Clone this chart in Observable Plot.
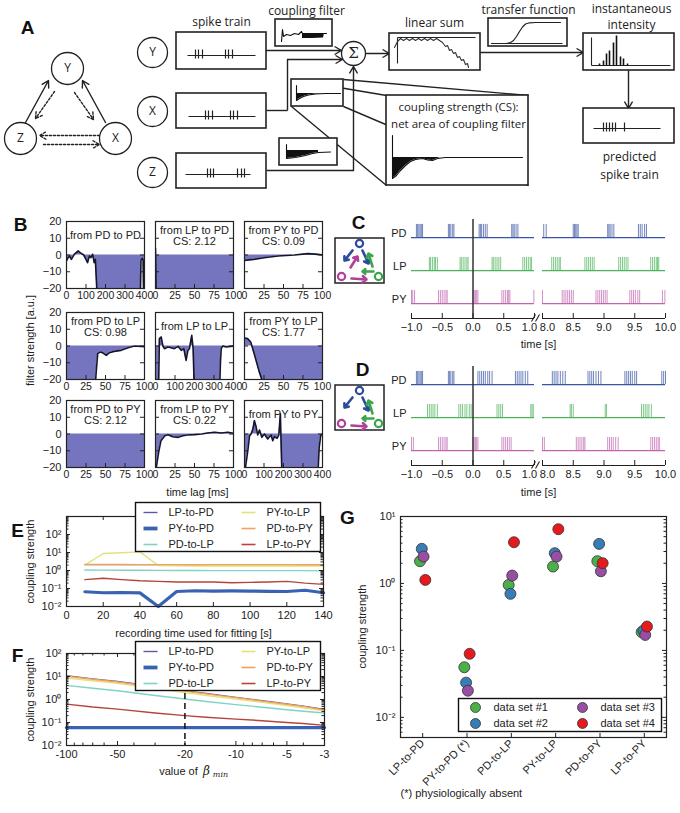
<!DOCTYPE html>
<html>
<head>
<meta charset="utf-8">
<script src="https://cdn.jsdelivr.net/npm/d3@7"></script>
<script src="https://cdn.jsdelivr.net/npm/@observablehq/plot@0.6"></script>
<style>
  html,body{margin:0;padding:0;background:#fff;}
  #root{position:relative;width:680px;height:813px;overflow:hidden;background:#fff;}
  #root svg{position:absolute;max-width:none;}
</style>
</head>
<body>
<div id="root"></div>
<script>
// ======================= DATA =======================
// Panel B: coupling filters [time lag (ms), filter strength (a.u.)]
const filterPDtoPD = [[0,-3.6],[8,-1.6],[15,-0.6],[25,-2.6],[40,0.4],[60,2.4],[70,1.4],[88,0],[100,-2.6],[108,-4.6],[117,-0.6],[125,-1.6],[134,0.4],[142,-4.6],[148,-2.6],[156,-22],[160,-30],[378,-30],[382,-3],[388,-2],[393,-3],[396,-30],[400,-30]];
const filterLPtoPD = [[0,4],[1,-30],[100,-30]];
const filterPYtoPD = [[0,-3.2],[12,-2.6],[25,-1.6],[43,-0.6],[64,0],[81,0.8],[94,0.4],[100,0]];
const filterPDtoLP = [[0,-30],[36,-30],[38,-16],[40,-4.6],[43,-3.6],[46,-4],[51,-5.6],[55,-4],[61,-3.2],[70,-2.6],[79,-1],[87,0],[100,-0.4]];
const filterLPtoLP = [[0,-30],[15,-30],[18,-10],[20,4.4],[29,5.4],[38,0],[46,-1.6],[63,-0.6],[80,-1],[97,-1.6],[115,-0.2],[132,-2.6],[145,-1.6],[157,-8.6],[166,-2.6],[174,-1.6],[186,6.4],[193,-1.6],[198,-22],[200,-30],[328,-30],[333,-10],[337,-1.6],[345,0],[362,-0.6],[400,0]];
const filterPYtoLP = [[0,4.8],[4,4.4],[8,2.4],[13,-5.6],[19,-15.6],[23,-21],[26,-30],[100,-30]];
const filterPDtoPY = [[0,-30],[100,-30]];
const filterLPtoPY = [[0,-30],[1,-20],[4,-11],[7,-4],[12,-1],[16,-0.4],[22,-1.6],[29,-2],[35,-1],[41,-0.6],[50,-0.4],[59,0],[67,0.6],[76,1],[84,0.6],[93,1],[100,0.4]];
const filterPYtoPY = [[0,-30],[5,-20],[17,-10],[26,-1],[34,0],[43,3],[51,8],[60,4],[68,-0.6],[77,2.4],[89,-2],[102,0],[119,-3],[136,-0.6],[145,-4],[153,-1.6],[167,-2.6],[176,-0.6],[184,12],[191,-20],[194,-30],[374,-30],[383,-8],[391,-1],[400,0]];
const filterTitles = ["from PD to PD","from LP to PD","from PY to PD","from PD to LP","from LP to LP","from PY to LP","from PD to PY","from LP to PY","from PY to PY"];
const filterCS = [null,"2.12","0.09","0.98",null,"1.77","2.12","0.22",null];
const filterMaxLag = [400,100,100,100,400,100,100,100,400];
const lagTicksShort = [0,25,50,75,100];
const lagTicksLong = [0,100,200,300,400];
const strengthTicks = [-20,-10,0,10,20];

// Panels C & D: spike times (s)
const cPD = [-0.92,-0.90,-0.88,-0.86,-0.84,-0.82,-0.40,-0.38,-0.36,-0.33,-0.31,0.10,0.12,0.14,0.17,0.20,0.23,0.63,0.65,0.67,0.70,0.73,
             8.02,8.06,8.50,8.52,8.54,8.56,8.58,9.06,9.08,9.10,9.13,9.16,9.56,9.59,9.62,9.66,9.69];
const cLP = [-0.71,-0.69,-0.66,-0.63,-0.61,-0.58,-0.21,-0.19,-0.16,-0.13,-0.10,-0.08,0.31,0.33,0.36,0.39,0.42,0.45,0.81,0.84,0.87,0.90,0.93,0.95,
             8.15,8.18,8.21,8.24,8.27,8.29,8.69,8.72,8.75,8.78,8.81,8.84,9.24,9.27,9.30,9.33,9.36,9.39,9.76,9.79,9.82,9.85,9.87,9.89];
const cPY = [-1.0,-0.98,-0.95,-0.56,-0.53,-0.50,-0.47,-0.44,-0.42,0.0,0.02,0.04,0.06,0.08,0.47,0.50,0.53,0.56,0.58,0.60,0.99,
             8.0,8.32,8.35,8.38,8.41,8.44,8.47,8.50,8.87,8.90,8.93,8.96,8.99,9.02,9.05,9.42,9.45,9.48,9.51,9.55,9.58,9.95,9.99];
const dPD = [-0.92,-0.90,-0.88,-0.86,-0.84,-0.82,-0.40,-0.38,-0.36,-0.33,-0.31,0.08,0.11,0.14,0.17,0.20,0.24,0.27,0.31,0.69,0.72,0.75,0.78,0.81,0.85,0.89,
             8.16,8.19,8.22,8.25,8.29,8.33,8.37,8.74,8.77,8.80,8.83,8.87,8.91,8.95,9.34,9.37,9.40,9.43,9.46,9.50,9.53,9.94,9.97,10.0];
const dLP = [-0.74,-0.71,-0.68,-0.65,-0.62,-0.58,-0.23,-0.20,-0.17,-0.13,-0.10,-0.06,-0.03,0.39,0.42,0.45,0.48,0.94,0.96,0.98,
             8.45,8.47,8.50,9.02,9.04,9.61,9.64,9.67,9.70,9.73,9.77];
const dPY = [-1.0,-0.97,-0.56,-0.53,-0.50,-0.47,-0.44,-0.42,0.0,0.02,0.04,0.06,0.08,0.47,0.50,0.53,0.56,0.59,0.62,
             8.0,8.03,8.55,8.58,8.61,8.64,8.67,8.69,9.06,9.09,9.12,9.15,9.19,9.23,9.76,9.79,9.82,9.85,9.88,9.90];
const neuronNames = ["PD","LP","PY"];
const timeTicksEarly = [-1,-0.5,0,0.5,1];
const timeTicksLate = [8,8.5,9,9.5,10];

// Panels E & F: series
const seriesNames = ["LP-to-PD","PY-to-PD","PD-to-LP","PY-to-LP","PD-to-PY","LP-to-PY"];
const recTime = [10,20,30,40,50,60,70,80,90,100,110,120,130,140];
const eLPtoPD = [2.12,2.1,2.1,2.12,2.1,2.12,2.12,2.1,2.12,2.12,2.1,2.12,2.1,2.12];
const ePYtoPD = [0.066,0.058,0.06,0.057,0.010,0.068,0.075,0.072,0.073,0.072,0.07,0.068,0.08,0.058];
const ePDtoLP = [1.06,1.05,1.04,1.03,1.02,1.0,1.0,0.99,0.98,0.98,0.98,0.98,0.98,0.95];
const ePYtoLP = [2.0,8.8,9.6,10.8,1.9,1.8,1.78,1.77,1.77,1.77,1.77,1.77,1.77,1.75];
const ePDtoPY = [2.2,2.15,2.15,2.12,2.12,2.12,2.1,2.12,2.12,2.12,2.12,2.12,2.1,2.1];
const eLPtoPY = [0.31,0.37,0.31,0.27,0.25,0.23,0.23,0.23,0.21,0.22,0.23,0.25,0.2,0.17];
const betaMin = [-100,-70,-50,-30,-20,-15,-10,-7,-5,-4,-3];
const fLPtoPD = [11,8,6.2,3.7,2.4,1.85,1.25,0.9,0.65,0.52,0.37];
const fPYtoPD = [0.06,0.06,0.06,0.06,0.06,0.06,0.06,0.06,0.06,0.06,0.06];
const fPDtoLP = [4.1,3.1,2.4,1.5,1.05,0.82,0.6,0.46,0.36,0.31,0.26];
const fPYtoLP = [8.5,6.5,5.0,3.0,2.0,1.5,1.05,0.75,0.55,0.44,0.32];
const fPDtoPY = [10.3,7.6,5.8,3.5,2.3,1.75,1.2,0.85,0.62,0.5,0.35];
const fLPtoPY = [0.63,0.47,0.38,0.26,0.2,0.17,0.14,0.12,0.1,0.09,0.075];
const betaTicks = [-100,-50,-20,-10,-5,-3];
const betaChosen = [-20];

// Panel G
const gCategories = ["LP-to-PD","PY-to-PD (*)","PD-to-LP","PY-to-LP","PD-to-PY","LP-to-PY"];
const gSetNames = ["data set #1","data set #2","data set #3","data set #4"];
const gSet1 = [2.15,0.056,0.95,1.79,2.15,0.187];
const gSet2 = [3.29,0.033,0.70,2.83,3.90,0.198];
const gSet3 = [2.52,0.025,1.31,2.52,1.52,0.170];
const gSet4 = [1.13,0.089,4.13,6.46,2.01,0.227];

// ======================= STYLES / LAYOUT =======================
const root = document.getElementById("root");
const SANS = "'Liberation Sans', Arial, Helvetica, sans-serif";
const OPEN = "'Open Sans', 'Liberation Sans', sans-serif";
const INK = "#222";
const STYLE = `background:transparent;overflow:visible;font-family:${SANS};font-size:11px;color:${INK};`;
const seriesColors = ["#5b58a8","#3a62b3","#7fd3c4","#e2e27a","#f5a05a","#b5443f"];
const seriesWidths = [1.2,3.2,1.4,1.4,1.4,1.4];
const rasterColors = ["#3a55a5","#4cb35a","#c066b0"];
const gColors = ["#4daf4a","#377eb8","#984ea3","#e41a1c"];
const filterFill = "#7474bf";

function mount(svg, left, top) {
  svg.style.left = left + "px";
  svg.style.top = top + "px";
  root.appendChild(svg);
}
const SUP = {"-":"⁻","0":"⁰","1":"¹","2":"²","3":"³","4":"⁴","5":"⁵","6":"⁶","7":"⁷","8":"⁸","9":"⁹"};
const pow10 = v => "10" + String(Math.round(Math.log10(v))).split("").map(c => SUP[c]).join("");
function logMinors(lo, hi) {
  const out = [];
  for (let e = Math.floor(Math.log10(lo)); e <= Math.ceil(Math.log10(hi)); e++)
    for (let k = 2; k <= 9; k++) { const v = k * 10 ** e; if (v > lo * 1.0001 && v < hi * 0.9999) out.push(v); }
  return out;
}

// Schematic geometry (panel A), in page pixels
const triNodes = [{label:"Y",x:67,y:68},{label:"Z",x:20,y:138},{label:"X",x:115,y:138}];
const triArrows = [
  {x1:25,y1:122,x2:48,y2:80,dash:false},{x1:54,y1:91,x2:35,y2:118,dash:true},
  {x1:105,y1:122,x2:82,y2:80,dash:false},{x1:74,y1:92,x2:93,y2:119,dash:true},
  {x1:99,y1:135,x2:39,y2:135,dash:true},{x1:43,y1:144,x2:99,y2:144,dash:true}];
const ioNodes = [{label:"Y",x:152,y:52},{label:"X",x:152,y:111},{label:"Z",x:152,y:172}];
const sumNode = [{label:"Σ",x:353,y:53}];
const wires = [
  {x1:266,y1:110,x2:287,y2:110},{x1:287,y1:110,x2:287,y2:59},
  {x1:266,y1:170,x2:353,y2:170},
  {x1:291,y1:79,x2:386,y2:95},{x1:343,y1:79,x2:528,y2:95},
  {x1:291,y1:106,x2:386,y2:185},{x1:343,y1:106,x2:528,y2:185}];
const wireArrows = [
  {x1:266,y1:50,x2:341,y2:50},{x1:287,y1:59,x2:342,y2:59},{x1:353,y1:170,x2:353,y2:66},
  {x1:365,y1:53,x2:389,y2:53},{x1:480,y1:52,x2:583,y2:52},{x1:628,y1:70,x2:628,y2:108}];
const boxes = [
  {x1:176,x2:266,y1:32,y2:69},{x1:176,x2:266,y1:93,y2:128},{x1:176,x2:266,y1:153,y2:188},
  {x1:275,x2:332,y1:19,y2:46},{x1:291,x2:343,y1:79,y2:106},{x1:279,x2:337,y1:138,y2:165},
  {x1:386,x2:528,y1:95,y2:185},{x1:389,x2:480,y1:33,y2:70},{x1:488,x2:567,y1:18,y2:46},
  {x1:583,x2:674,y1:33,y2:70},{x1:583,x2:674,y1:108,y2:143}];
const trainsA = [
  {y:55,x1:187,x2:255,ticks:[195,198,202,225,228,232]},
  {y:116,x1:188,x2:255,ticks:[205,208,212,230,233,237]},
  {y:174,x1:185,x2:250,ticks:[207,210,213,237,241,244]},
  {y:128,x1:593,x2:660,ticks:[603,606,609,612,615,624]}];
const miniFilters = [
  {base:33, line:[[281,41],[282,29],[283,36],[286,34],[290,35],[294,33],[298,34],[301,31],[302,33],[326,33]], fill:[[302,38],[312,38],[323,37.5],[324,33]]},
  {base:93, line:[[296,85],[296,100],[299,98],[303,96],[308,94.5],[315,93.5],[325,93],[340,93]], fill:[[296,100],[299,98],[303,96],[308,94.5],[315,93.5],[325,93]]},
  {base:150, line:[[286,144],[286,158],[295,157],[305,155],[312,153],[318,152],[330,151.5]], fill:[[286,158],[295,157],[305,155],[312,153],[318,152]]},
  {base:157, line:[[392,135],[392,178],[396,175],[400,170],[405,165],[410,161],[415,159],[422,158],[427,159.5],[432,160],[437,158],[445,157],[522,157]], fill:[[392,178],[396,175],[400,170],[405,165],[410,161],[415,159],[422,158],[427,159.5],[432,160],[437,158],[440,157]]}];
const linSumAxes = [{x1:397,y1:37,x2:475,y2:37},{x1:397,y1:37,x2:397,y2:63},{x1:591,y1:37,x2:591,y2:65},{x1:591,y1:65,x2:670,y2:65},{x1:491,y1:43,x2:562,y2:43}];
const linSumCurve = [[394,47],[397,41],[400,38],[403,40],[406,38],[409,40],[412,38],[415,40],[418,38],[421,40],[424,38],[427,40],[430,38],[433,40],[436,38],[439,40],[442,42],[445,46],[447,45],[449,50],[451,49],[453,53],[455,52],[457,57],[459,56],[461,60],[463,59],[465,64],[467,63],[468,67]];
const sigmoidCurve = [[491,43],[506,43],[510,42],[513,40],[516,36],[519,31],[522,26.5],[525,23.5],[529,22.3],[535,22],[560,22]];
const intensityBars = [[599,63],[603,60],[606,53],[609,50],[613,42],[616,35],[620,56],[623,58],[627,63]];
const iconNodes = [{n:"PD",dx:24,dy:5},{n:"PY",dx:6,dy:38},{n:"LP",dx:43,dy:38}];
const iconArrows = [
  {n:"PD",x1:17,y1:12,x2:9,y2:22,both:true},{n:"PY",x1:15,y1:29,x2:22,y2:18,both:false},
  {n:"PD",x1:27,y1:12,x2:33,y2:25,both:true},{n:"LP",x1:37,y1:28,x2:33,y2:15,both:true},
  {n:"LP",x1:38,y1:33,x2:27,y2:33,both:true},{n:"PY",x1:16,y1:40,x2:31,y2:41,both:true}];
const iconOrigins = [{panel:"C",x:335,y:238},{panel:"D",x:335,y:385}];
const iconColors = {PD:"#2c4a9e",LP:"#3aa64a",PY:"#b0409a"};
const breakMarks = [{x1:531,y1:321,x2:535,y2:314},{x1:535,y1:321,x2:539,y2:314},{x1:531,y1:468,x2:535,y2:461},{x1:535,y1:468,x2:539,y2:461}];

const panelLetters = [["A",27,27],["B",20,224],["C",358,222],["D",362,369],["E",17,530],["F",17,655],["G",347,517]];
const schematicLabels = [["spike train",221,22],["coupling filter",306,11],["linear sum",434,23],["transfer function",528,10],["instantaneous",631,9],["intensity",631,25],["predicted",629,157],["spike train",629,175]];
const zoomBoxLabels = [["coupling strength (CS):",458,107],["net area of coupling filter",458,124]];
const axisTitles = [["time lag [ms]",197,492,0],["time [s]",538,344,0],["time [s]",538,492,0],["filter strength [a.u.]",30,340,-90],["coupling strength",30,561,-90],["coupling strength",30,699,-90],["coupling strength",362,626,-90],["recording time used for fitting [s]",193,633,0],["value of",178,771,0]];

// ======================= OVERLAY (panel A + annotations) =======================
const iconNodeRows = iconOrigins.flatMap(o => iconNodes.map(d => ({...d, x: o.x + d.dx, y: o.y + d.dy})));
const iconArrowRows = iconOrigins.flatMap(o => iconArrows.filter(a => o.panel === "C" || a.both).map(a => ({...a, x1: o.x + a.x1, y1: o.y + a.y1, x2: o.x + a.x2, y2: o.y + a.y2})));
const iconBoxes = iconOrigins.map(o => ({x1: o.x, x2: o.x + 49, y1: o.y, y2: o.y + 45}));
const trainTicks = trainsA.flatMap(t => t.ticks.map(x => ({x, y: t.y})));

const overlay = Plot.plot({
  width: 680, height: 813, margin: 0,
  x: {domain: [0, 680], axis: null},
  y: {domain: [0, 813], reverse: true, axis: null},
  style: STYLE,
  marks: [
    Plot.link(wires, {x1:"x1",y1:"y1",x2:"x2",y2:"y2",stroke:INK,strokeWidth:1.4}),
    Plot.arrow(wireArrows, {x1:"x1",y1:"y1",x2:"x2",y2:"y2",stroke:INK,strokeWidth:1.4,headLength:8}),
    Plot.arrow(triArrows.filter(d => !d.dash), {x1:"x1",y1:"y1",x2:"x2",y2:"y2",stroke:INK,strokeWidth:1.4,headLength:8}),
    Plot.arrow(triArrows.filter(d => d.dash), {x1:"x1",y1:"y1",x2:"x2",y2:"y2",stroke:INK,strokeWidth:1.4,headLength:8,strokeDasharray:"2.2,1.8"}),
    Plot.rect(boxes, {x1:"x1",x2:"x2",y1:"y1",y2:"y2",fill:"white",stroke:INK,strokeWidth:1.6}),
    Plot.dot(triNodes, {x:"x",y:"y",r:16,fill:"white",stroke:INK,strokeWidth:1.3}),
    Plot.dot(ioNodes, {x:"x",y:"y",r:15,fill:"white",stroke:INK,strokeWidth:1.3}),
    Plot.dot(sumNode, {x:"x",y:"y",r:12,fill:"white",stroke:INK,strokeWidth:1.3}),
    Plot.text([...triNodes, ...ioNodes], {x:"x",y:"y",text:"label",fontFamily:OPEN,fontSize:12,fill:INK}),
    Plot.text(sumNode, {x:"x",y:"y",text:"label",fontFamily:"'DejaVu Serif', serif",fontSize:15,fill:INK}),
    Plot.link(trainsA, {x1:"x1",x2:"x2",y1:"y",y2:"y",stroke:INK,strokeWidth:1.2}),
    Plot.link(trainTicks, {x1:"x",x2:"x",y1:d=>d.y-6,y2:d=>d.y+3,stroke:INK,strokeWidth:1.2}),
    ...miniFilters.map(f => Plot.areaY(f.fill, {x:d=>d[0],y1:f.base,y2:d=>d[1],fill:"#111"})),
    ...miniFilters.map(f => Plot.line(f.line, {x:d=>d[0],y:d=>d[1],stroke:"#111",strokeWidth:1.1})),
    Plot.link(linSumAxes, {x1:"x1",y1:"y1",x2:"x2",y2:"y2",stroke:INK,strokeWidth:1.1}),
    Plot.line(linSumCurve, {x:d=>d[0],y:d=>d[1],stroke:"#333",strokeWidth:1.1}),
    Plot.line(sigmoidCurve, {x:d=>d[0],y:d=>d[1],stroke:INK,strokeWidth:1.2}),
    Plot.link(intensityBars, {x1:d=>d[0],x2:d=>d[0],y1:65,y2:d=>d[1],stroke:"#111",strokeWidth:1.6}),
    Plot.rect(iconBoxes, {x1:"x1",x2:"x2",y1:"y1",y2:"y2",fill:"white",stroke:INK,strokeWidth:1.5}),
    Plot.arrow(iconArrowRows, {x1:"x1",y1:"y1",x2:"x2",y2:"y2",stroke:d=>iconColors[d.n],strokeWidth:2.6,headLength:5,headAngle:80}),
    Plot.dot(iconNodeRows, {x:"x",y:"y",r:3.6,fill:"white",stroke:d=>iconColors[d.n],strokeWidth:2.2}),
    Plot.link(breakMarks, {x1:"x1",y1:"y1",x2:"x2",y2:"y2",stroke:INK,strokeWidth:1.1}),
    Plot.text(panelLetters, {x:d=>d[1],y:d=>d[2],text:d=>d[0],fontFamily:SANS,fontWeight:"bold",fontSize:19,fill:"#111"}),
    Plot.text(schematicLabels, {x:d=>d[1],y:d=>d[2],text:d=>d[0],fontFamily:OPEN,fontSize:12,fill:INK}),
    Plot.text(zoomBoxLabels, {x:d=>d[1],y:d=>d[2],text:d=>d[0],fontFamily:OPEN,fontSize:11.5,fill:INK}),
    Plot.text(axisTitles, {x:d=>d[1],y:d=>d[2],text:d=>d[0],rotate:d=>d[3],fontFamily:SANS,fontSize:11,fill:INK}),
    Plot.text(["β"], {x:206,y:771,text:d=>d,fontFamily:"'DejaVu Serif', serif",fontStyle:"italic",fontSize:12,fill:INK}),
    Plot.text(["min"], {x:220,y:774,text:d=>d,fontFamily:"'DejaVu Serif', serif",fontStyle:"italic",fontSize:8,fill:INK}),
    Plot.text(["(*) physiologically absent"], {x:400,y:793,text:d=>d,textAnchor:"start",fontFamily:SANS,fontSize:11,fill:INK})
  ]
});
mount(overlay, 0, 0);

// ======================= PANEL B =======================
const filters = [filterPDtoPD, filterLPtoPD, filterPYtoPD, filterPDtoLP, filterLPtoLP, filterPYtoLP, filterPDtoPY, filterLPtoPY, filterPYtoPY];
const bColLeft = [66, 154.5, 243.5];
const bRowTop = [221, 311.5, 400];
filters.forEach((pts, i) => {
  const row = Math.floor(i / 3), col = i % 3;
  const fw = 78, fh = 67;
  const m = {l: 30, r: 4, t: 2, b: 16};
  const xt = filterMaxLag[i] === 400 ? lagTicksLong : lagTicksShort;
  const title = filterCS[i] ? `${filterTitles[i]}\nCS: ${filterCS[i]}` : filterTitles[i];
  const svg = Plot.plot({
    width: fw + m.l + m.r, height: fh + m.t + m.b,
    marginLeft: m.l, marginRight: m.r, marginTop: m.t, marginBottom: m.b,
    x: {domain: [0, filterMaxLag[i]], axis: null},
    y: {domain: [-20, 20], axis: null},
    style: STYLE,
    marks: [
      Plot.areaY(pts, {x: d => d[0], y1: 0, y2: d => d[1], fill: filterFill, clip: true}),
      Plot.line(pts, {x: d => d[0], y: d => d[1], stroke: "#15152a", strokeWidth: 1.6, clip: true}),
      Plot.frame({stroke: INK, strokeWidth: 1.2}),
      Plot.tickX(xt, {x: d => d, insetTop: fh - 4, stroke: INK}),
      Plot.tickY(strengthTicks, {y: d => d, insetRight: fw - 4, stroke: INK}),
      Plot.tickY(strengthTicks, {y: d => d, insetLeft: fw - 4, stroke: INK}),
      Plot.axisX({ticks: xt, tickSize: 0, tickPadding: 3, label: null, fontSize: 10.5}),
      col === 0 ? Plot.axisY({ticks: strengthTicks, tickSize: 0, tickPadding: 5, label: null, fontSize: 11}) : null,
      Plot.text([title], {text: d => d, frameAnchor: "top", lineAnchor: "top", dy: filterCS[i] ? 5 : 10, fontSize: 11, fill: INK})
    ].filter(Boolean)
  });
  mount(svg, bColLeft[col] - m.l, bRowTop[row] - m.t);
});

// ======================= PANELS C & D =======================
const rowOf = {PD: 3, LP: 2, PY: 1};
const neuronRows = neuronNames.map(n => ({neuron: n, row: rowOf[n]}));
const fmt1 = d3.format(".1f");
function rasterPlot(trains, early, frameLeft, pdBase) {
  const unit = 33, fh = unit * 3, fw = 123;
  const m = {l: early ? 34 : 2, r: 4, t: 2, b: 22};
  const seg = early ? [-1, 1] : [8, 10];
  const ticks = early ? timeTicksEarly : timeTicksLate;
  const edgeTick = early ? ticks[ticks.length - 1] : ticks[0];
  const spikes = [];
  trains.forEach((times, k) => times.forEach(t => { if (t >= seg[0] - 0.01 && t <= seg[1] + 0.01) spikes.push({neuron: neuronNames[k], t}); }));
  const svg = Plot.plot({
    width: fw + m.l + m.r, height: fh + m.t + m.b,
    marginLeft: m.l, marginRight: m.r, marginTop: m.t, marginBottom: m.b,
    x: {domain: seg, axis: null},
    y: {domain: [0.55, 3.55], axis: null},
    color: {domain: neuronNames, range: rasterColors},
    style: STYLE,
    marks: [
      Plot.ruleY(neuronRows, {y: "row", stroke: "neuron", strokeWidth: 1.3}),
      Plot.ruleX(spikes, {x: "t", y1: d => rowOf[d.neuron], y2: d => rowOf[d.neuron] + 0.4, stroke: "neuron", strokeOpacity: 0.72, strokeWidth: 1}),
      early ? Plot.ruleX([0], {stroke: "#333", strokeWidth: 1.5}) : null,
      Plot.ruleY([0.55], {stroke: INK, strokeWidth: 1.2}),
      Plot.tickX(ticks, {x: d => d, insetTop: fh - 5, stroke: INK}),
      Plot.axisX({ticks: ticks.filter(t => t !== edgeTick), tickSize: 0, tickPadding: 5, tickFormat: fmt1, label: null, fontSize: 11}),
      Plot.text([edgeTick], {x: d => d, text: d => fmt1(d), frameAnchor: "bottom", lineAnchor: "top", dy: 5, dx: early ? -5 : 5, fontSize: 11, fill: INK}),
      early ? Plot.text(neuronRows, {y: "row", text: "neuron", frameAnchor: "left", textAnchor: "end", dx: -5, dy: -4, fontSize: 11, fill: INK}) : null
    ].filter(Boolean)
  });
  mount(svg, frameLeft - m.l, pdBase - 0.55 * unit - m.t);
}
rasterPlot([cPD, cLP, cPY], true, 411, 237);
rasterPlot([cPD, cLP, cPY], false, 542, 237);
rasterPlot([dPD, dLP, dPY], true, 411, 384);
rasterPlot([dPD, dLP, dPY], false, 542, 384);

// ======================= PANEL E =======================
const eSeries = [eLPtoPD, ePYtoPD, ePDtoLP, ePYtoLP, ePDtoPY, eLPtoPY];
const fSeries = [fLPtoPD, fPYtoPD, fPDtoLP, fPYtoLP, fPDtoPY, fLPtoPY];
function frameTicks(fw, fh, xMaj, xMin, yMaj, yMin) {
  const out = [];
  const add = (vals, len, axis) => {
    if (!vals || !vals.length) return;
    if (axis === "x") {
      out.push(Plot.tickX(vals, {x: d => d, insetTop: fh - len, stroke: INK}));
      out.push(Plot.tickX(vals, {x: d => d, insetBottom: fh - len, stroke: INK}));
    } else {
      out.push(Plot.tickY(vals, {y: d => d, insetRight: fw - len, stroke: INK}));
      out.push(Plot.tickY(vals, {y: d => d, insetLeft: fw - len, stroke: INK}));
    }
  };
  add(xMaj, 4, "x"); add(xMin, 2.5, "x"); add(yMaj, 4, "y"); add(yMin, 2.5, "y");
  return out;
}
{
  const fw = 257, fh = 90, m = {l: 40, r: 6, t: 2, b: 22};
  const xt = [0,20,40,60,80,100,120,140];
  const yMaj = [0.01,0.1,1,10,100];
  const svg = Plot.plot({
    width: fw + m.l + m.r, height: fh + m.t + m.b,
    marginLeft: m.l, marginRight: m.r, marginTop: m.t, marginBottom: m.b,
    x: {domain: [0, 140], axis: null},
    y: {type: "log", domain: [0.01, 1000], axis: null},
    style: STYLE,
    marks: [
      ...seriesNames.map((name, i) => Plot.line(recTime.map((t, j) => ({t, v: eSeries[i][j]})), {x: "t", y: "v", stroke: seriesColors[i], strokeWidth: seriesWidths[i]})),
      Plot.frame({stroke: INK, strokeWidth: 1.2}),
      ...frameTicks(fw, fh, xt, null, yMaj, logMinors(0.01, 1000)),
      Plot.axisX({ticks: xt, tickSize: 0, tickPadding: 5, label: null, fontSize: 11}),
      Plot.axisY({ticks: yMaj, tickSize: 0, tickPadding: 5, tickFormat: pow10, label: null, fontSize: 11})
    ]
  });
  mount(svg, 66 - m.l, 516 - m.t);
}

// ======================= PANEL F =======================
{
  const fw = 258, fh = 92, m = {l: 40, r: 6, t: 2, b: 22};
  const yMaj = [0.01,0.1,1,10,100];
  const xMaj = betaTicks.map(b => -b);
  const xMin = logMinors(3, 100).filter(v => !xMaj.includes(v));
  const svg = Plot.plot({
    width: fw + m.l + m.r, height: fh + m.t + m.b,
    marginLeft: m.l, marginRight: m.r, marginTop: m.t, marginBottom: m.b,
    x: {type: "log", domain: [100, 3], axis: null},
    y: {type: "log", domain: [0.01, 100], axis: null},
    style: STYLE,
    marks: [
      ...seriesNames.map((name, i) => Plot.line(betaMin.map((b, j) => ({b, v: fSeries[i][j]})), {x: d => -d.b, y: "v", stroke: seriesColors[i], strokeWidth: seriesWidths[i]})),
      Plot.ruleX(betaChosen, {x: d => -d, stroke: "#111", strokeWidth: 1.5, strokeDasharray: "6,4"}),
      Plot.frame({stroke: INK, strokeWidth: 1.2}),
      ...frameTicks(fw, fh, xMaj, xMin, yMaj, logMinors(0.01, 100)),
      Plot.axisX({ticks: xMaj, tickSize: 0, tickPadding: 5, tickFormat: d => "-" + d, label: null, fontSize: 11}),
      Plot.axisY({ticks: yMaj, tickSize: 0, tickPadding: 5, tickFormat: pow10, label: null, fontSize: 11})
    ]
  });
  mount(svg, 66 - m.l, 653 - m.t);
}

// ======================= PANEL G =======================
{
  const fw = 266, fh = 221, m = {l: 45, r: 6, t: 2, b: 62};
  const yMaj = [0.01,0.1,1,10];
  const dodge = [-0.06, -0.02, 0.02, 0.06];
  const gSets = [gSet1, gSet2, gSet3, gSet4];
  const rows = gSets.flatMap((vals, s) => vals.map((v, c) => ({set: gSetNames[s], s, c, v})));
  const cats = gCategories.map((_, i) => i);
  const svg = Plot.plot({
    width: fw + m.l + m.r, height: fh + m.t + m.b,
    marginLeft: m.l, marginRight: m.r, marginTop: m.t, marginBottom: m.b,
    x: {domain: [-0.5, 5.5], axis: null},
    y: {type: "log", domain: [0.005, 10], axis: null},
    color: {domain: gSetNames, range: gColors},
    style: STYLE,
    marks: [
      Plot.frame({stroke: INK, strokeWidth: 1.2}),
      ...frameTicks(fw, fh, null, null, yMaj, logMinors(0.005, 10)),
      Plot.tickX(cats, {x: d => d, insetTop: fh - 4, stroke: INK}),
      Plot.axisX({ticks: cats, tickSize: 0, tickPadding: 4, tickRotate: -45, tickFormat: i => gCategories[i], label: null, fontSize: 11}),
      Plot.axisY({ticks: yMaj, tickSize: 0, tickPadding: 5, tickFormat: pow10, label: null, fontSize: 11}),
      Plot.dot(rows, {x: d => d.c + dodge[d.s], y: "v", fill: "set", stroke: "#333", strokeWidth: 0.8, r: 5.5})
    ]
  });
  mount(svg, 400 - m.l, 516 - m.t);
}

// ======================= LEGENDS =======================
function seriesLegend(left, top) {
  const items = seriesNames.map((name, i) => ({name, i, col: Math.floor(i / 3), row: i % 3}));
  const w = 185, h = 49;
  const svg = Plot.plot({
    width: w, height: h, margin: 0,
    x: {domain: [0, w], axis: null},
    y: {domain: [0, h], reverse: true, axis: null},
    style: STYLE,
    marks: [
      Plot.frame({fill: "white", stroke: "#111", strokeWidth: 1.4}),
      ...items.map(d => Plot.link([d], {x1: 8 + d.col * 98, x2: 22 + d.col * 98, y1: 10 + d.row * 16, y2: 10 + d.row * 16, stroke: seriesColors[d.i], strokeWidth: seriesWidths[d.i] + (d.i === 1 ? 0.6 : 0.2)})),
      Plot.text(items, {x: d => 33 + d.col * 98, y: d => 10 + d.row * 16, text: "name", textAnchor: "start", fontSize: 11, fill: INK})
    ]
  });
  mount(svg, left, top);
}
seriesLegend(135, 502);
seriesLegend(135, 641);
{
  const items = gSetNames.map((name, i) => ({name, i, col: Math.floor(i / 2), row: i % 2}));
  const w = 203, h = 33;
  const svg = Plot.plot({
    width: w, height: h, margin: 0,
    x: {domain: [0, w], axis: null},
    y: {domain: [0, h], reverse: true, axis: null},
    color: {domain: gSetNames, range: gColors},
    style: STYLE,
    marks: [
      Plot.frame({fill: "white", stroke: "#111", strokeWidth: 1.4}),
      Plot.dot(items, {x: d => 17 + d.col * 107, y: d => 9 + d.row * 16, fill: "name", stroke: "#333", strokeWidth: 0.8, r: 5}),
      Plot.text(items, {x: d => 35 + d.col * 107, y: d => 9 + d.row * 16, text: "name", textAnchor: "start", fontSize: 11, fill: INK})
    ]
  });
  mount(svg, 458, 698);
}
</script>
</body>
</html>
